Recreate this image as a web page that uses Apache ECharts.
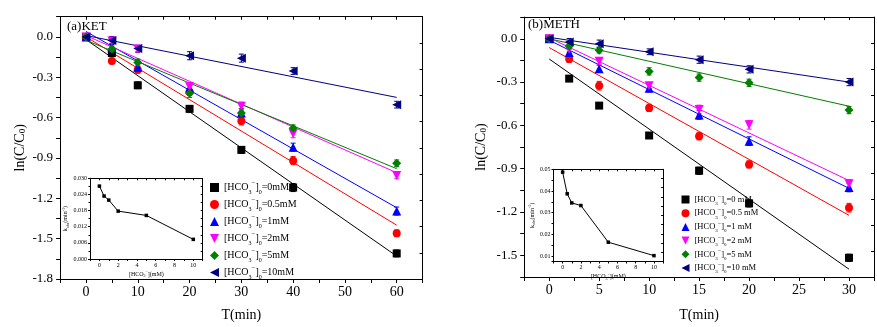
<!DOCTYPE html>
<html>
<head>
<meta charset="utf-8">
<script src="https://cdn.jsdelivr.net/npm/echarts@6/dist/echarts.min.js"></script>
<style>
  html, body { margin: 0; padding: 0; background: #ffffff; }
  #chart { width: 877px; height: 327px; }
</style>
</head>
<body>
<div id="chart"></div>
<script>
// Sampling times (min)
const ketTimes = [0, 5, 10, 20, 30, 40, 60];
const methTimes = [0, 2, 5, 10, 15, 20, 30];

// Initial bicarbonate levels, legend order
const ketLevels = ['0mM', '0.5mM', '1mM', '2mM', '5mM', '10mM'];
const methLevels = ['0 mM', '0.5 mM', '1 mM', '2 mM', '5 mM', '10 mM'];

// ln(C/C0) of KET for each bicarbonate level
const ket0  = [0, -0.12, -0.36, -0.535, -0.84, -1.12, -1.61];
const ket05 = [0, -0.18, -0.245, -0.41, -0.625, -0.92, -1.46];
const ket1  = [0, -0.08, -0.225, -0.38, -0.565, -0.82, -1.295];
const ket2  = [0, -0.03, -0.09, -0.37, -0.515, -0.72, -1.03];
const ket5  = [0, -0.09, -0.19, -0.42, -0.565, -0.68, -0.94];
const ket10 = [0, -0.027, -0.087, -0.14, -0.158, -0.254, -0.504];

// Error-bar half widths for KET
const ket0Err  = [0.01, 0.02, 0.025, 0.025, 0.025, 0.03, 0.025];
const ket05Err = [0.01, 0.02, 0.025, 0.025, 0.03, 0.03, 0.025];
const ket1Err  = [0.01, 0.03, 0.025, 0.03, 0.03, 0.03, 0.03];
const ket2Err  = [0.01, 0.03, 0.025, 0.03, 0.03, 0.03, 0.025];
const ket5Err  = [0.01, 0.02, 0.025, 0.03, 0.03, 0.025, 0.025];
const ket10Err = [0.01, 0.03, 0.025, 0.03, 0.03, 0.025, 0.025];

// Linear fits for KET: ln(C/C0) at t = 0 and t = 60 min
const ketFitT = [0, 60];
const ketFit0  = [-0.02, -1.63];
const ketFit05 = [0.0, -1.40];
const ketFit1  = [0.04, -1.27];
const ketFit2  = [0.01, -1.01];
const ketFit5  = [-0.025, -0.98];
const ketFit10 = [0.01, -0.45];

// ln(C/C0) of METH for each bicarbonate level
const meth0  = [0, -0.276, -0.463, -0.67, -0.914, -1.14, -1.517];
const meth05 = [0, -0.14, -0.325, -0.479, -0.675, -0.87, -1.17];
const meth1  = [0, -0.095, -0.208, -0.343, -0.528, -0.709, -1.03];
const meth2  = [0, -0.072, -0.156, -0.325, -0.49, -0.596, -1.005];
const meth5  = [0, -0.05, -0.079, -0.226, -0.269, -0.305, -0.494];
const meth10 = [0, -0.023, -0.034, -0.09, -0.145, -0.212, -0.30];

// Error-bar half widths for METH
const meth0Err  = [0.01, 0.02, 0.015, 0.02, 0.025, 0.025, 0.025];
const meth05Err = [0.01, 0.025, 0.03, 0.025, 0.025, 0.025, 0.03];
const meth1Err  = [0.01, 0.025, 0.025, 0.025, 0.03, 0.03, 0.03];
const meth2Err  = [0.01, 0.02, 0.02, 0.02, 0.03, 0.03, 0.03];
const meth5Err  = [0.01, 0.02, 0.02, 0.025, 0.025, 0.025, 0.025];
const meth10Err = [0.01, 0.025, 0.025, 0.02, 0.025, 0.025, 0.025];

// Linear fits for METH: ln(C/C0) at t = 0 and t = 30 min
const methFitT = [0, 30];
const methFit0  = [-0.14, -1.596];
const methFit05 = [-0.061, -1.223];
const methFit1  = [-0.01, -1.036];
const methFit2  = [0.007, -0.982];
const methFit5  = [0.0, -0.467];
const methFit10 = [0.01, -0.30];

// Rate constants k_obs (min^-1) against [HCO3-] (mM)
const hco3 = [0, 0.5, 1, 2, 5, 10];
const ketK = [0.0271, 0.0234, 0.0219, 0.0178, 0.0162, 0.0073];
const methK = [0.0487, 0.0387, 0.0345, 0.0333, 0.0164, 0.0102];

const colors = ['#000000', '#ff0000', '#0000ff', '#ff00ff', '#008000', '#000080'];
const symbols = ['rect', 'circle', 'triangle', 'triangle', 'diamond', 'triangle'];
const symbolRotations = [0, 0, 0, 180, 0, 90];
const symbolSizes = [8, 8, 9, 9, 9, 9];
// Legend icons (rotation is baked into the path for the turned triangles)
const legendIcons = ['rect', 'circle', 'triangle',
  'path://M0,0 L10,0 L5,10 Z', 'diamond', 'path://M0,5 L10,0 L10,10 Z'];

const FONT = 'Liberation Serif';

const ketSets = [ket0, ket05, ket1, ket2, ket5, ket10];
const ketErrs = [ket0Err, ket05Err, ket1Err, ket2Err, ket5Err, ket10Err];
const ketFits = [ketFit0, ketFit05, ketFit1, ketFit2, ketFit5, ketFit10];
const methSets = [meth0, meth05, meth1, meth2, meth5, meth10];
const methErrs = [meth0Err, meth05Err, meth1Err, meth2Err, meth5Err, meth10Err];
const methFits = [methFit0, methFit05, methFit1, methFit2, methFit5, methFit10];

const near = (v, step) => Math.abs(v / step - Math.round(v / step)) < 1e-6;
const fmt1 = v => (Math.abs(v) < 1e-9 ? '0.0' : v.toFixed(1));

function renderErrorBar(params, api) {
  const x = api.value(0), y = api.value(1), e = api.value(2);
  const hi = api.coord([x, y + e]);
  const lo = api.coord([x, y - e]);
  const w = 2.5;
  const style = { stroke: api.visual('color'), lineWidth: 1 };
  return {
    type: 'group',
    children: [
      { type: 'line', shape: { x1: hi[0], y1: hi[1], x2: lo[0], y2: lo[1] }, style },
      { type: 'line', shape: { x1: hi[0] - w, y1: hi[1], x2: hi[0] + w, y2: hi[1] }, style },
      { type: 'line', shape: { x1: lo[0] - w, y1: lo[1], x2: lo[0] + w, y2: lo[1] }, style }
    ]
  };
}

// Builds fit line, error bars and markers for one kinetics panel
function panelSeries(prefix, times, sets, errs, fits, fitT, levels, axisIdx) {
  const out = [];
  sets.forEach((vals, i) => {
    out.push({
      type: 'line', xAxisIndex: axisIdx, yAxisIndex: axisIdx,
      data: fitT.map((t, k) => [t, fits[i][k]]),
      showSymbol: false, symbol: 'none', silent: true, z: 2,
      lineStyle: { color: colors[i], width: 1 }
    });
  });
  sets.forEach((vals, i) => {
    out.push({
      type: 'custom', xAxisIndex: axisIdx, yAxisIndex: axisIdx,
      renderItem: renderErrorBar, z: 3, silent: true,
      itemStyle: { color: colors[i] },
      encode: { x: 0, y: 1 },
      data: times.map((t, k) => [t, vals[k], errs[i][k]])
    });
  });
  sets.forEach((vals, i) => {
    out.push({
      type: 'scatter', name: prefix + levels[i], xAxisIndex: axisIdx, yAxisIndex: axisIdx,
      symbol: symbols[i], symbolRotate: symbolRotations[i], symbolSize: symbolSizes[i], z: 4,
      itemStyle: { color: colors[i], opacity: 1 },
      data: times.map((t, k) => [t, vals[k]])
    });
  });
  return out;
}

const axisLineStyle = { show: true, onZero: false, lineStyle: { color: '#000', width: 1 } };

function mainX(gridIndex, min, max, interval, labelStep, labelMax, nameGap) {
  return {
    type: 'value', gridIndex, min, max, interval, position: 'bottom',
    axisLine: axisLineStyle,
    axisTick: { show: true, inside: false, length: 4, lineStyle: { color: '#000' } },
    splitLine: { show: false },
    axisLabel: {
      margin: 6, color: '#000', fontFamily: FONT, fontSize: 14,
      formatter: v => (near(v, labelStep) && v >= -1e-9 && v <= labelMax + 1e-9 ? String(Math.round(v)) : '')
    },
    name: 'T(min)', nameLocation: 'middle', nameGap,
    nameTextStyle: { color: '#000', fontFamily: FONT, fontSize: 14 }
  };
}

function mirrorX(gridIndex, min, max, interval) {
  return {
    type: 'value', gridIndex, min, max, interval, position: 'top',
    axisLine: axisLineStyle,
    axisTick: { show: true, inside: true, length: 3, lineStyle: { color: '#000' } },
    axisLabel: { show: false }, splitLine: { show: false }
  };
}

function mainY(gridIndex, min, max, nameGap) {
  return {
    type: 'value', gridIndex, min, max, interval: 0.15, position: 'left',
    axisLine: axisLineStyle,
    axisTick: { show: true, inside: false, length: 4, lineStyle: { color: '#000' } },
    splitLine: { show: false },
    axisLabel: {
      margin: 7, color: '#000', fontFamily: FONT, fontSize: 13,
      formatter: v => (near(v, 0.3) && v <= 1e-9 ? fmt1(v) : '')
    },
    name: 'ln(C/C{s|0})', nameLocation: 'middle', nameGap,
    nameTextStyle: {
      color: '#000', fontFamily: FONT, fontSize: 14,
      rich: { s: { fontFamily: FONT, fontSize: 9, verticalAlign: 'bottom', lineHeight: 10, color: '#000' } }
    }
  };
}

function mirrorY(gridIndex) {
  return {
    type: 'value', gridIndex, min: 0, max: 10, interval: 1, position: 'right',
    axisLine: axisLineStyle,
    axisTick: { show: true, inside: true, length: 3, lineStyle: { color: '#000' } },
    axisLabel: { show: false }, splitLine: { show: false }
  };
}

const insetRich = {
  s: { fontFamily: FONT, fontSize: 4, verticalAlign: 'bottom', lineHeight: 4, color: '#000' },
  p: { fontFamily: FONT, fontSize: 4, verticalAlign: 'top', lineHeight: 4, color: '#000' }
};

function insetX(gridIndex) {
  return {
    type: 'value', gridIndex, min: -1, max: 11, interval: 1, position: 'bottom',
    axisLine: axisLineStyle,
    axisTick: { show: true, inside: false, length: 2, lineStyle: { color: '#000' } },
    splitLine: { show: false },
    axisLabel: {
      margin: 3, color: '#000', fontFamily: FONT, fontSize: 6,
      formatter: v => (near(v, 2) && v >= 0 && v <= 10 ? String(Math.round(v)) : '')
    },
    name: '[HCO{s|3}{p|−}](mM)', nameLocation: 'middle', nameGap: 11,
    nameTextStyle: { color: '#000', fontFamily: FONT, fontSize: 6, lineHeight: 8, rich: insetRich }
  };
}

function insetMirrorX(gridIndex) {
  return {
    type: 'value', gridIndex, min: -1, max: 11, interval: 1, position: 'top',
    axisLine: axisLineStyle,
    axisTick: { show: true, inside: true, length: 2, lineStyle: { color: '#000' } },
    axisLabel: { show: false }, splitLine: { show: false }
  };
}

function insetMirrorY(gridIndex) {
  return {
    type: 'value', gridIndex, min: 0, max: 10, interval: 1, position: 'right',
    axisLine: axisLineStyle,
    axisTick: { show: true, inside: true, length: 2, lineStyle: { color: '#000' } },
    axisLabel: { show: false }, splitLine: { show: false }
  };
}

const kName = {
  name: 'k{s|obs}(min{p|-1})', nameLocation: 'middle',
  nameTextStyle: { color: '#000', fontFamily: FONT, fontSize: 6, lineHeight: 8, rich: insetRich }
};

const legendRich = (size, sub) => ({
  s: { fontFamily: FONT, fontSize: sub, verticalAlign: 'bottom', lineHeight: sub + 1, color: '#000' },
  p: { fontFamily: FONT, fontSize: sub + 1, verticalAlign: 'top', lineHeight: sub + 2, color: '#000' }
});

const legendData = (prefix, levels) =>
  levels.map((l, i) => ({ name: prefix + l, icon: legendIcons[i], itemStyle: { color: colors[i] } }));

const option = {
  animation: false,
  backgroundColor: '#ffffff',
  grid: [
    { left: 60.1, top: 16.7, width: 362.5, height: 268.3, containLabel: false },
    { left: 524.2, top: 17.1, width: 360.9, height: 266.1, containLabel: false },
    { left: 90, top: 178.3, width: 112.7, height: 80.7, containLabel: false },
    { left: 553.5, top: 169.3, width: 109.6, height: 92.2, containLabel: false }
  ],
  xAxis: [
    mainX(0, -5, 65, 5, 10, 60, 29),
    mirrorX(0, -5, 65, 5),
    mainX(1, -2.5, 32.5, 2.5, 5, 30, 31),
    mirrorX(1, -2.5, 32.5, 2.5),
    insetX(2),
    insetMirrorX(2),
    insetX(3),
    insetMirrorX(3)
  ],
  yAxis: [
    mainY(0, -1.8, 0.15, 33),
    mirrorY(0),
    mainY(1, -1.65, 0.15, 36),
    mirrorY(1),
    Object.assign({
      type: 'value', gridIndex: 2, min: 0, max: 0.03, interval: 0.006, position: 'left',
      axisLine: axisLineStyle,
      axisTick: { show: true, inside: false, length: 2, lineStyle: { color: '#000' } },
      minorTick: { show: true, splitNumber: 2, length: 1.5, lineStyle: { color: '#000' } },
      splitLine: { show: false }, minorSplitLine: { show: false },
      axisLabel: { margin: 3, color: '#000', fontFamily: FONT, fontSize: 6, formatter: v => v.toFixed(3) },
      nameGap: 20
    }, kName),
    insetMirrorY(2),
    Object.assign({
      type: 'value', gridIndex: 3, min: 0.0075, max: 0.05, splitNumber: 8, position: 'left',
      axisLine: axisLineStyle,
      axisTick: { show: true, inside: false, length: 2, lineStyle: { color: '#000' } },
      splitLine: { show: false },
      axisLabel: {
        margin: 3, color: '#000', fontFamily: FONT, fontSize: 6,
        formatter: v => (near(v, 0.01) ? v.toFixed(2) : '')
      },
      nameGap: 16
    }, kName),
    insetMirrorY(3)
  ],
  legend: [
    {
      data: legendData('a:', ketLevels),
      orient: 'vertical', left: 205, top: 174.5,
      itemWidth: 9, itemHeight: 9, itemGap: 1,
      selectedMode: false,
      textStyle: { color: '#000', fontFamily: FONT, fontSize: 10, lineHeight: 16, rich: legendRich(10, 6) },
      formatter: name => '[HCO{s|3}{p|−}]{s|0}=' + name.slice(2)
    },
    {
      data: legendData('b:', methLevels),
      orient: 'vertical', left: 676.5, top: 188,
      itemWidth: 8, itemHeight: 8, itemGap: 0.7,
      selectedMode: false,
      textStyle: { color: '#000', fontFamily: FONT, fontSize: 8.5, lineHeight: 13, rich: legendRich(8.5, 5) },
      formatter: name => '[HCO{s|3}{p|−}]{s|0}=' + name.slice(2)
    }
  ],
  graphic: [
    { type: 'text', left: 67, top: 20.5, style: { text: '(a)KET', fontFamily: FONT, fontSize: 13, fill: '#000' } },
    { type: 'text', left: 528, top: 18.5, style: { text: '(b)METH', fontFamily: FONT, fontSize: 13, fill: '#000' } }
  ],
  series: [
    ...panelSeries('a:', ketTimes, ketSets, ketErrs, ketFits, ketFitT, ketLevels, 0),
    ...panelSeries('b:', methTimes, methSets, methErrs, methFits, methFitT, methLevels, 2),
    {
      type: 'line', xAxisIndex: 4, yAxisIndex: 4,
      data: hco3.map((c, i) => [c, ketK[i]]),
      symbol: 'rect', symbolSize: 3.5, showSymbol: true,
      lineStyle: { color: '#000', width: 1 }, itemStyle: { color: '#000' }
    },
    {
      type: 'line', xAxisIndex: 6, yAxisIndex: 6,
      data: hco3.map((c, i) => [c, methK[i]]),
      symbol: 'rect', symbolSize: 3.5, showSymbol: true,
      lineStyle: { color: '#000', width: 1 }, itemStyle: { color: '#000' }
    }
  ]
};

const chart = echarts.init(document.getElementById('chart'), null, { renderer: 'canvas' });
chart.setOption(option);
</script>
</body>
</html>
